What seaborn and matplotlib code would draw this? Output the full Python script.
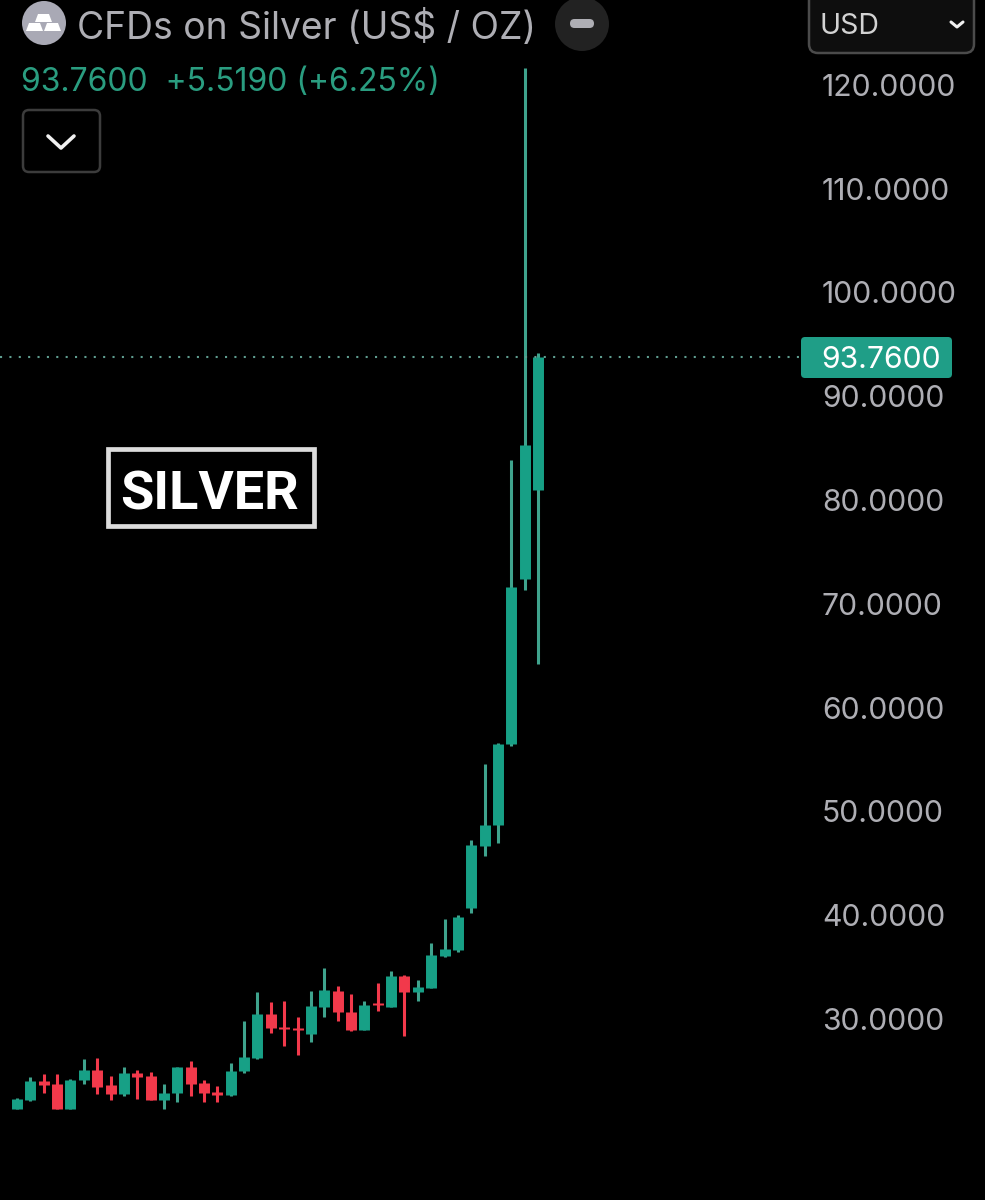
# Silver CFD candlestick screenshot, dark theme
import matplotlib
matplotlib.use("Agg")
import matplotlib.pyplot as plt
from matplotlib.patches import Ellipse, FancyBboxPatch, Polygon, Rectangle
import pandas as pd
import seaborn as sns

# ---------------------------------------------------------------------------
# Data
# ---------------------------------------------------------------------------
opens = [21.36, 22.20, 24.06, 23.74, 21.36, 24.12, 25.09, 23.61, 22.74, 24.80,
         24.48, 22.23, 22.87, 25.34, 23.83, 22.97, 22.68, 24.96, 26.27, 30.45,
         29.26, 29.10, 28.52, 31.12, 32.73, 30.67, 28.91, 31.51, 31.19, 34.14,
         32.63, 33.02, 36.07, 36.65, 40.69, 46.67, 48.69, 56.49, 72.39, 80.96]
closes = [22.26, 23.99, 23.64, 21.36, 24.12, 25.09, 23.48, 22.74, 24.77, 24.41,
          22.23, 22.90, 25.34, 23.77, 22.90, 22.71, 25.02, 26.34, 30.45, 29.13,
          29.07, 28.91, 31.25, 32.76, 30.64, 28.91, 31.38, 31.32, 34.14, 32.63,
          33.05, 36.13, 36.74, 39.83, 46.76, 48.69, 56.49, 71.62, 85.30, 93.76]
highs = [22.36, 24.41, 24.67, 24.70, 24.22, 26.11, 26.21, 24.54, 25.34, 25.09,
         24.86, 23.74, 25.34, 25.95, 24.12, 23.55, 25.79, 29.84, 32.57, 31.64,
         31.77, 30.22, 32.73, 34.95, 33.21, 32.44, 31.77, 33.50, 34.62, 34.24,
         33.76, 37.32, 39.63, 40.02, 47.24, 54.57, 56.59, 83.85, 121.62, 94.16]
lows = [21.36, 22.13, 22.84, 21.36, 21.36, 23.71, 22.77, 22.20, 22.61, 22.29,
        22.23, 21.36, 21.97, 22.61, 22.04, 22.04, 22.61, 24.83, 26.18, 28.65,
        27.43, 26.53, 27.82, 30.22, 29.78, 28.84, 28.91, 30.77, 31.19, 28.39,
        31.77, 33.02, 35.97, 36.45, 40.21, 45.70, 46.96, 56.30, 71.33, 64.20]

price_ticks = [120, 110, 100, 90, 80, 70, 60, 50, 40, 30]
last_price = 93.76

title_text = "CFDs on Silver (US$ / OZ)"
quote_text = "93.7600  +5.5190 (+6.25%)"

GREEN = "#17a086"
WICK_GREEN = "#3fa38d"
RED = "#f2394b"
GREY = "#aeaeb4"

# ---------------------------------------------------------------------------
# Long tables for seaborn: one row per line end, one unit per candle
# ---------------------------------------------------------------------------
rows_wick = []
rows_body = []
for i, (o, h, l, c) in enumerate(zip(opens, highs, lows, closes)):
    side = "up" if c >= o else "down"
    rows_wick += [(i, l, side), (i, h, side)]
    rows_body += [(i, o, side), (i, c, side)]
wicks = pd.DataFrame(rows_wick, columns=["candle", "price", "side"])
bodies = pd.DataFrame(rows_body, columns=["candle", "price", "side"])

sns.set_theme(style="dark", rc={
    "figure.facecolor": "black",
    "axes.facecolor": "black",
    "lines.solid_capstyle": "butt",
})
plt.rcParams["font.family"] = ["Inter", "DejaVu Sans"]

fig = plt.figure(figsize=(9.85, 12), dpi=100)
ax = fig.add_axes([0, 0, 1, 1])

sns.lineplot(data=wicks, x="candle", y="price", units="candle", estimator=None,
             hue="side", hue_order=["up", "down"],
             palette={"up": WICK_GREEN, "down": RED},
             linewidth=2.2, solid_capstyle="butt", legend=False, ax=ax)
sns.lineplot(data=bodies, x="candle", y="price", units="candle", estimator=None,
             hue="side", hue_order=["up", "down"],
             palette={"up": GREEN, "down": RED},
             linewidth=7.9, solid_capstyle="butt", legend=False, ax=ax)

ax.axhline(last_price, xmax=800 / 985, color="#5f9e90", linewidth=1.5,
           linestyle=(0, (1, 3.5)))

# candle 0 sits 17 px from the left, candles are 13.36 px apart
ax.set_xlim(-17 / 13.36, (985 - 17) / 13.36)
# 10 price units = 10.38 * 10 px, price 30 at pixel row 1019
ax.set_ylim(30 - 181 / 10.38, 30 + 1019 / 10.38)

ax.set_xticks([])
ax.set_xlabel("")
ax.set_ylabel("")
ax.yaxis.tick_right()
ax.set_yticks(price_ticks)
ax.set_yticklabels([f"{p:.4f}" for p in price_ticks], color=GREY, fontsize=21.7,
                   ha="left", va="center_baseline")
ax.tick_params(axis="y", length=0, pad=-117.4)
sns.despine(ax=ax, left=True, bottom=True, right=True, top=True)
ax.grid(False)

# ---------------------------------------------------------------------------
# App chrome, drawn on an overlay in pixel coordinates
# ---------------------------------------------------------------------------
ui = fig.add_axes([0, 0, 1, 1])
ui.set_xlim(0, 985)
ui.set_ylim(1200, 0)
ui.axis("off")


def rounded(x0, y0, x1, y1, radius, **kw):
    ui.add_patch(FancyBboxPatch((x0 + radius, y0 + radius),
                                x1 - x0 - 2 * radius, y1 - y0 - 2 * radius,
                                boxstyle=f"round,pad={radius}", **kw))


# silver icon
ui.add_patch(Ellipse((44, 23), 44, 44, color="#a9a9b5", lw=0))
for pts in ([(38, 14), (49, 14), (52, 22), (35, 22)],
            [(29, 23), (40, 23), (43, 31), (26, 31)],
            [(47, 23), (58, 23), (61, 31), (44, 31)]):
    ui.add_patch(Polygon(pts, color="white", lw=0))

ui.text(77, 24, title_text, color=GREY, fontsize=26.8, va="center_baseline")
ui.text(21, 79, quote_text, color="#2a9d80", fontsize=23, va="center_baseline")

# collapse button
rounded(23, 110, 100, 172, 6, facecolor="black", edgecolor="#3c3c3c", linewidth=1.8)
ui.plot([48, 61, 74], [136, 148, 136], color="#f0f0f0", lw=2.6,
        solid_capstyle="round", solid_joinstyle="round")

# minus button
ui.add_patch(Ellipse((582, 24), 54, 54, color="#222222", lw=0))
rounded(570, 19, 594, 28, 4.5, facecolor=GREY, edgecolor="none")

# currency dropdown
rounded(809, -10, 974, 53, 9, facecolor="#0e0e0e", edgecolor="#4b4b4b", linewidth=1.8)
ui.text(820, 23, "USD", color="#d2d2d2", fontsize=20.5, va="center_baseline")
ui.plot([951, 957, 963], [22, 27, 22], color="#f0f0f0", lw=2.2,
        solid_capstyle="round", solid_joinstyle="round")

# last price tag
rounded(801, 337, 952, 378, 4, facecolor="#1f9e87", edgecolor="none")
ui.text(821, 357, "93.7600", color="white", fontsize=21.7, va="center_baseline")

# SILVER stamp
ui.add_patch(Rectangle((108, 449), 206, 77, facecolor="black", edgecolor="#dcdcdc",
                       linewidth=3.4))
ui.text(210, 489, "SILVER", color="white", fontsize=39, fontweight="bold",
        family="Roboto", ha="center", va="center_baseline")

fig.savefig("out.png", dpi=100, facecolor="black")
